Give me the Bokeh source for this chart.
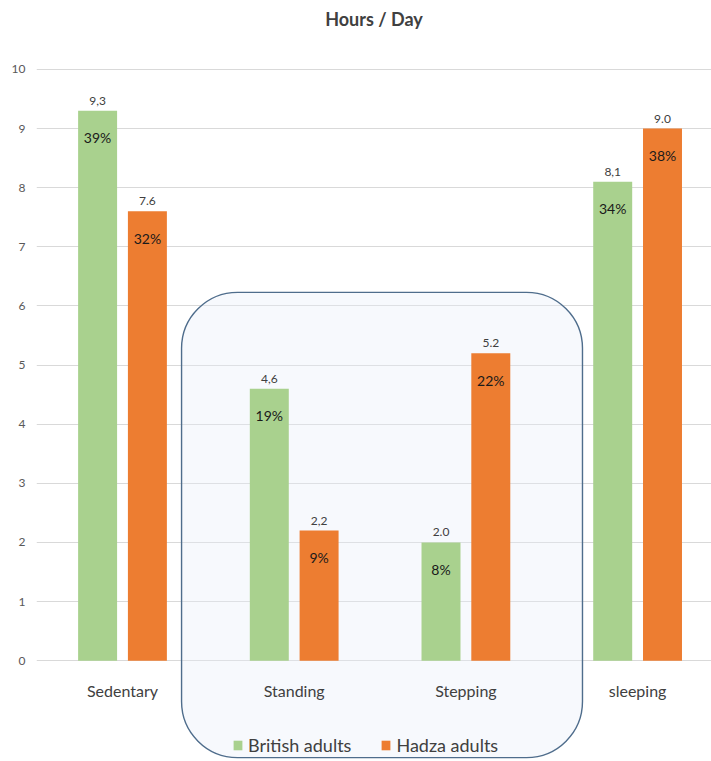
from bokeh.plotting import figure
from bokeh.models import ColumnDataSource, Range1d, FixedTicker, BoxAnnotation, Legend, LegendItem
from bokeh.transform import dodge
from bokeh.core.properties import value
from bokeh.embed import file_html
from bokeh.resources import INLINE

categories = ["Sedentary", "Standing", "Stepping", "sleeping"]
british = [9.3, 4.6, 2.0, 8.1]
hadza = [7.6, 2.2, 5.2, 9.0]
british_labels = ["9,3", "4,6", "2.0", "8,1"]
hadza_labels = ["7.6", "2,2", "5.2", "9.0"]
british_pct = ["39%", "19%", "8%", "34%"]
hadza_pct = ["32%", "9%", "22%", "38%"]
y_ticks = [0, 1, 2, 3, 4, 5, 6, 7, 8, 9, 10]

FONT = "Lato"
W, H = 711, 761
T = 33           # title panel height (approx)
ZERO_PX = 660    # pixel row of y=0
PX_PER_UNIT = 59.2
CAT_PX = 171.7
FIRST_CAT_PX = 122
LEFT = 36

src = ColumnDataSource(dict(
    x=list(range(len(categories))), cat=categories,
    british=british, hadza=hadza,
    bl=british_labels, hl=hadza_labels,
    bp=british_pct, hp=hadza_pct,
    zero=[0] * len(categories),
))

y_top = (ZERO_PX - T) / PX_PER_UNIT
y_bot = -(H - ZERO_PX) / PX_PER_UNIT
x_lo = (LEFT - FIRST_CAT_PX) / CAT_PX
x_hi = (W - FIRST_CAT_PX) / CAT_PX

p = figure(width=W, height=H, output_backend="svg", toolbar_location=None,
           x_range=Range1d(x_lo, x_hi), y_range=Range1d(y_bot, y_top),
           title="Hours / Day", min_border_left=LEFT, min_border_right=0,
           min_border_top=0, min_border_bottom=0)
p.title.align = "center"
p.title.text_font = FONT
p.title.text_font_size = "18px"
p.title.text_font_style = "bold"
p.title.text_color = "#404040"
p.outline_line_color = None
p.background_fill_color = "white"
p.border_fill_color = "white"

p.xaxis.visible = False
p.xgrid.visible = False
p.yaxis.ticker = FixedTicker(ticks=y_ticks)
p.yaxis.axis_line_color = None
p.yaxis.major_tick_line_color = None
p.yaxis.minor_tick_line_color = None
p.yaxis.major_tick_out = 0
p.yaxis.major_tick_in = 0
p.yaxis.minor_tick_out = 0
p.yaxis.major_label_standoff = 11
p.yaxis.major_label_text_font = FONT
p.yaxis.major_label_text_font_size = "12px"
p.yaxis.major_label_text_color = "#595959"
p.ygrid.ticker = FixedTicker(ticks=y_ticks)
p.ygrid.grid_line_color = "#d9d9d9"
p.ygrid.grid_line_width = 1

box = BoxAnnotation(left=0.344, right=2.679, top=6.23, bottom=-1.64,
                    border_radius=56, fill_color="#e8eff8", fill_alpha=0.35,
                    line_color="#4f6d8c", line_alpha=1.0, line_width=1.4,
                    level="underlay")
p.add_layout(box)

rb = p.vbar(x=dodge("x", -0.145, range=p.x_range), top="british", width=0.227,
            source=src, fill_color="#a9d18e", line_color=None)
rh = p.vbar(x=dodge("x", 0.145, range=p.x_range), top="hadza", width=0.227,
            source=src, fill_color="#ed7d31", line_color=None)

common = dict(source=src, text_font=value(FONT), text_align="center")
p.text(x=dodge("x", -0.145, range=p.x_range), y="british", text="bl",
       text_baseline="bottom", y_offset=-6, text_font_size="12px",
       text_color="#404040", **common)
p.text(x=dodge("x", 0.145, range=p.x_range), y="hadza", text="hl",
       text_baseline="bottom", y_offset=-6, text_font_size="12px",
       text_color="#404040", **common)
p.text(x=dodge("x", -0.145, range=p.x_range), y="british", text="bp",
       text_baseline="middle", y_offset=27, text_font_size="14px",
       text_color="#1a1a1a", **common)
p.text(x=dodge("x", 0.145, range=p.x_range), y="hadza", text="hp",
       text_baseline="middle", y_offset=27, text_font_size="14px",
       text_color="#1a1a1a", **common)
p.text(x="x", y="zero", text="cat", text_baseline="middle", y_offset=30,
       text_font_size="16px", text_color="#404040", **common)

legend = Legend(items=[LegendItem(label="British adults", renderers=[rb]),
                       LegendItem(label="Hadza adults", renderers=[rh])],
                orientation="horizontal", location=(196, 5),
                label_text_font=FONT, label_text_font_size="18px",
                label_text_color="#404040", glyph_width=11, glyph_height=12,
                label_standoff=5, spacing=29, padding=0, margin=0,
                border_line_alpha=0, background_fill_alpha=0)
p.add_layout(legend)

open("out.html", "w").write(file_html(p, INLINE))
